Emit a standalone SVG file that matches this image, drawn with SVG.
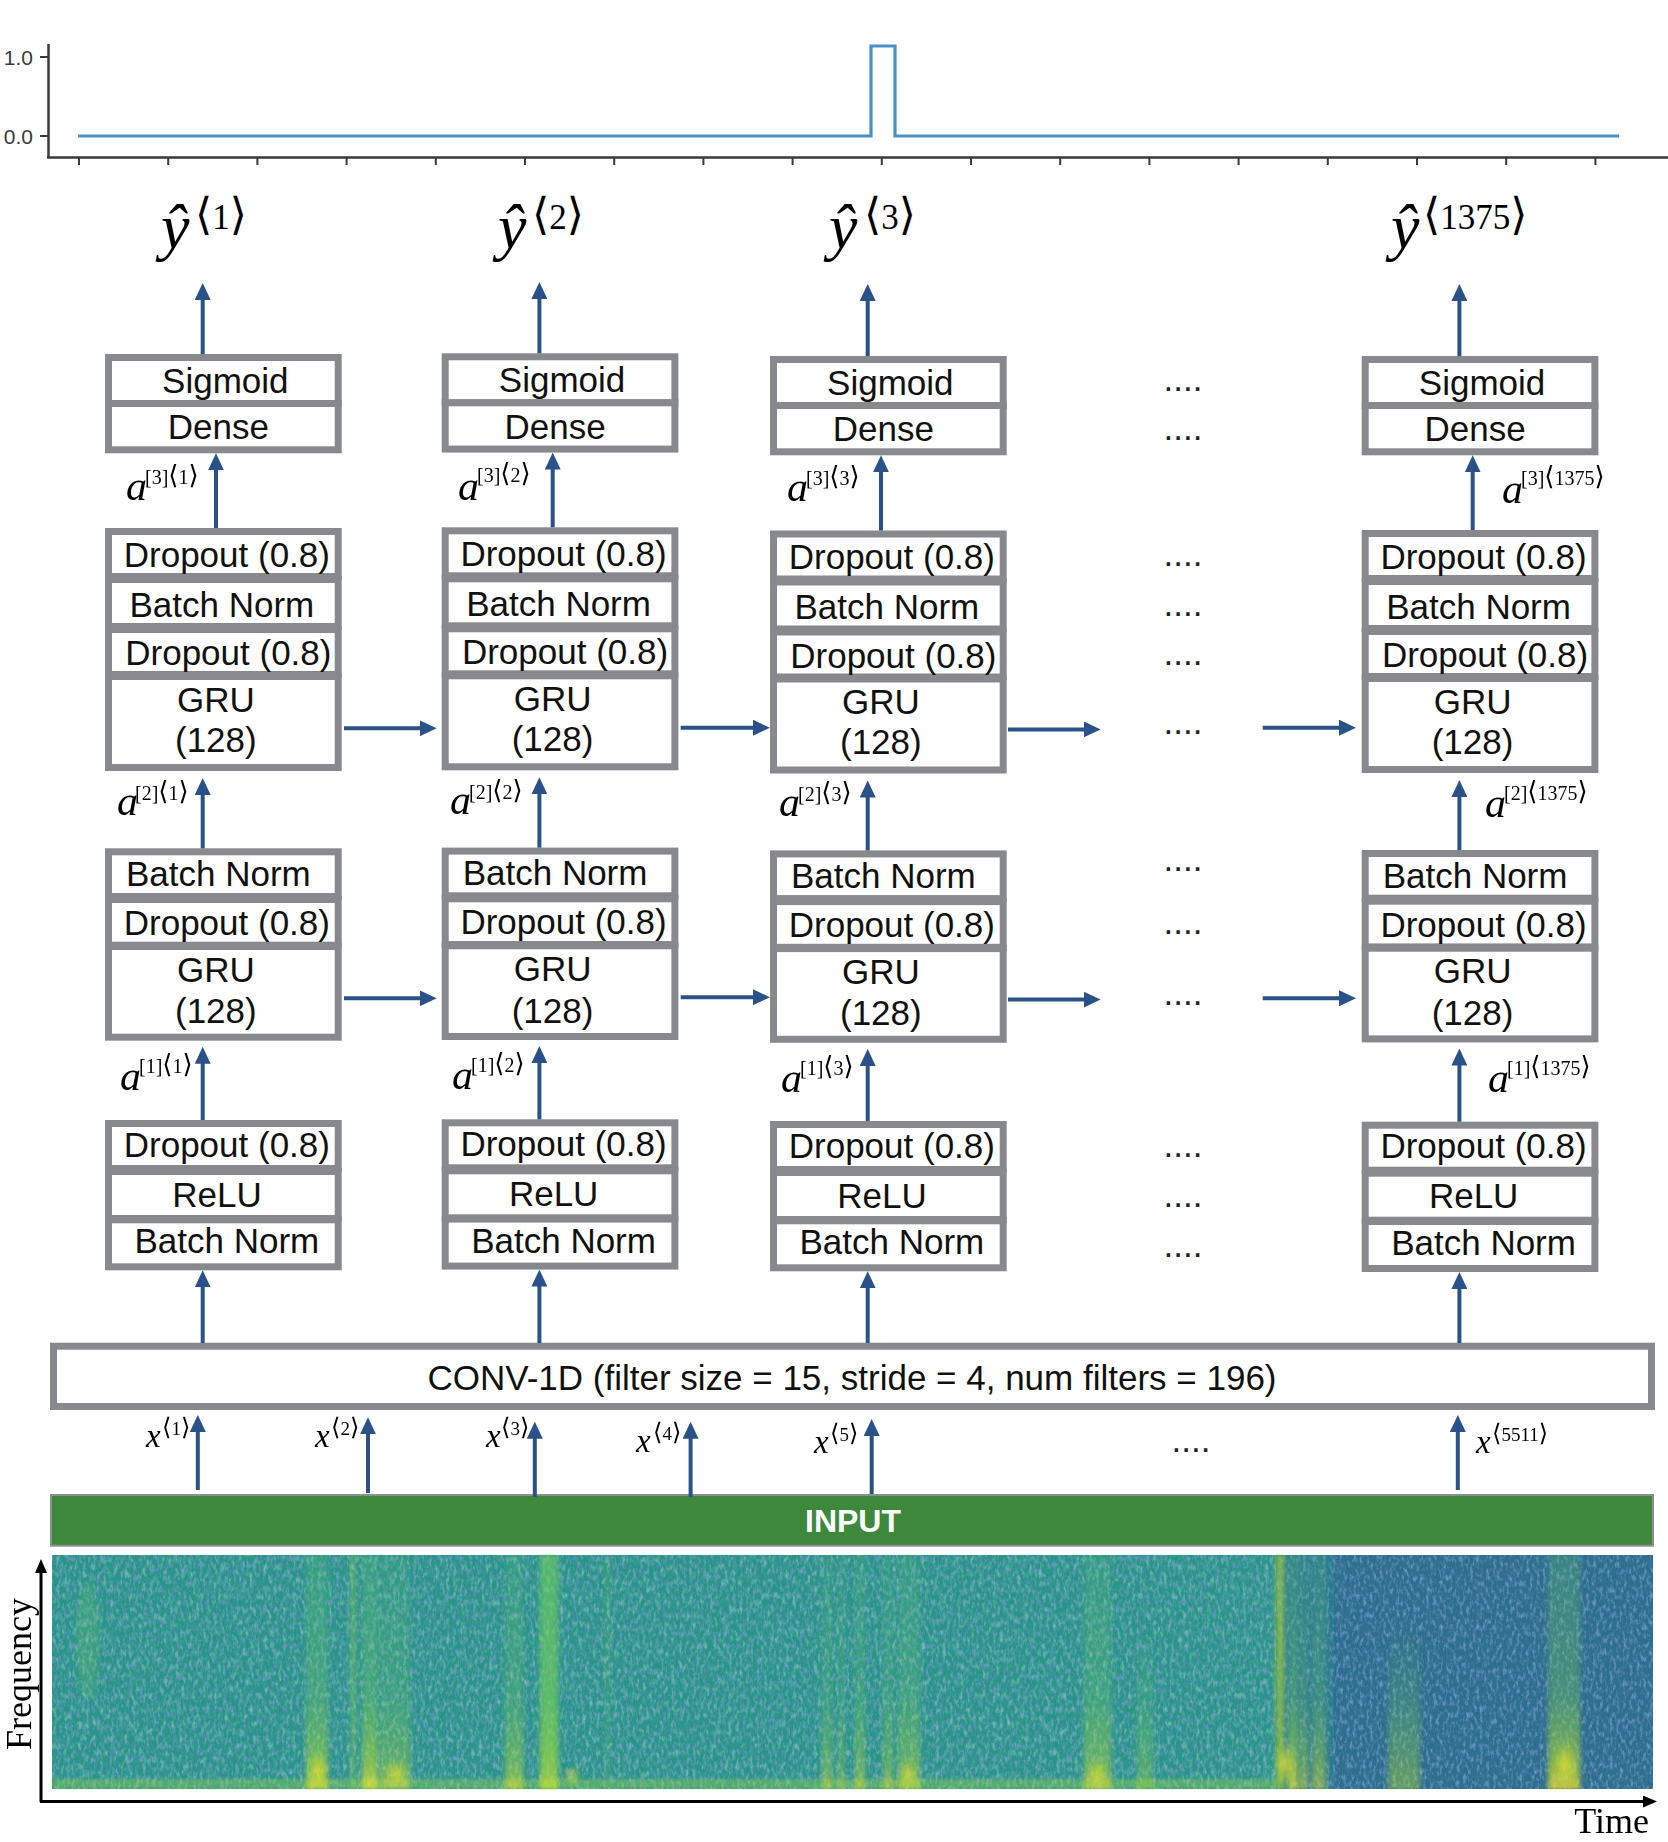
<svg xmlns="http://www.w3.org/2000/svg" width="1668" height="1842" viewBox="0 0 1668 1842">
<style>
.bx{fill:#fff;stroke:#88898d;stroke-width:7}
.t{font-family:"Liberation Sans",Arial,sans-serif;font-size:35px;fill:#111;text-anchor:middle}
.dots{font-family:"Liberation Sans",Arial,sans-serif;font-size:35px;fill:#222;text-anchor:middle}
.ar{stroke:#2a5288;stroke-width:4;fill:none;marker-end:url(#ah)}
.ax{stroke:#3a3a3a;stroke-width:2.5;fill:none}
.tk{stroke:#3a3a3a;stroke-width:2;fill:none}
.yl{font-family:"Liberation Sans",Arial,sans-serif;font-size:21px;fill:#3a3a3a;text-anchor:end}
.yh{font-family:"Liberation Serif","DejaVu Serif",serif;font-style:italic;font-size:64px;fill:#000}
.ys{font-family:"Liberation Serif","DejaVu Serif",serif;font-size:35px;fill:#000}
.av{font-family:"Liberation Serif","DejaVu Serif",serif;font-style:italic;font-size:42px;fill:#000}
.as{font-family:"Liberation Serif","DejaVu Serif",serif;font-size:20px;fill:#000}
.xv{font-family:"Liberation Serif","DejaVu Serif",serif;font-style:italic;font-size:33px;fill:#000}
.xs{font-family:"Liberation Serif","DejaVu Serif",serif;font-size:19px;fill:#000}
.axl{font-family:"Liberation Serif","DejaVu Serif",serif;font-size:36px;fill:#000}
.bk{stroke:#000;stroke-width:3;fill:none}
.b1{font-size:44px}
.b2{font-size:26px}
.b3{font-size:24px}
</style>
<defs>
<marker id="ah" viewBox="0 0 17 16" refX="5" refY="8" markerWidth="17" markerHeight="16" markerUnits="userSpaceOnUse" orient="auto"><path d="M0,0 L17,8 L0,16 z" fill="#2a5288"/></marker>
<marker id="bh" viewBox="0 0 14 12" refX="4" refY="6" markerWidth="14" markerHeight="12" markerUnits="userSpaceOnUse" orient="auto"><path d="M0,0 L14,6 L0,12 z" fill="#000"/></marker>
<linearGradient id="stk" x1="0" y1="0" x2="0" y2="1">
<stop offset="0" stop-color="#5ec962" stop-opacity="0.3"/>
<stop offset="0.6" stop-color="#7ad151" stop-opacity="0.42"/>
<stop offset="0.88" stop-color="#b5de2b" stop-opacity="0.75"/>
<stop offset="1" stop-color="#fde725" stop-opacity="0.9"/>
</linearGradient>
<linearGradient id="stk2" x1="0" y1="0" x2="0" y2="1">
<stop offset="0" stop-color="#5ec962" stop-opacity="0"/>
<stop offset="0.5" stop-color="#6ccd5a" stop-opacity="0.4"/>
<stop offset="1" stop-color="#b5de2b" stop-opacity="0.7"/>
</linearGradient>
<radialGradient id="blob"><stop offset="0" stop-color="#fde725" stop-opacity="0.85"/><stop offset="1" stop-color="#d2e21b" stop-opacity="0"/></radialGradient>
<filter id="bl" x="-60%" y="-5%" width="220%" height="110%"><feGaussianBlur stdDeviation="2.5 1.5"/></filter>
<filter id="noise" x="0" y="0" width="100%" height="100%">
<feTurbulence type="fractalNoise" baseFrequency="0.3 0.16" numOctaves="3" seed="3"/>
<feColorMatrix type="matrix" values="0 0 0 0 0.15  0 0 0 0 0.32  0 0 0 0 0.55  2.4 0 0 0 -1.08"/>
</filter>
<filter id="noise2" x="0" y="0" width="100%" height="100%">
<feTurbulence type="fractalNoise" baseFrequency="0.28 0.14" numOctaves="2" seed="11"/>
<feColorMatrix type="matrix" values="0 0 0 0 0.28  0 0 0 0 0.64  0 0 0 0 0.5  0 1.6 0 0 -0.8"/>
</filter>
</defs>

<g id="chart">
<path class="ax" d="M48.5,44 V157.5 M47,157.5 H1668"/>
<path class="tk" d="M40,57 H48.5 M40,136 H48.5"/>
<path class="tk" d="M79,157.5V165 M168.2,157.5V165 M257.4,157.5V165 M346.6,157.5V165 M435.8,157.5V165 M525,157.5V165 M614.2,157.5V165 M703.4,157.5V165 M792.6,157.5V165 M881.8,157.5V165 M971,157.5V165 M1060.2,157.5V165 M1149.4,157.5V165 M1238.6,157.5V165 M1327.8,157.5V165 M1417,157.5V165 M1506.2,157.5V165 M1595.4,157.5V165"/>
<text class="yl" x="33" y="64.5">1.0</text>
<text class="yl" x="33" y="143.5">0.0</text>
<path d="M78,136 H871 V46 H895 V136 H1619" fill="none" stroke="#4a91c9" stroke-width="3.2"/>
</g>

<g id="outputs">
<text class="yh" x="161" y="248">ŷ</text><text class="ys" x="195" y="229"><tspan class="b1">⟨</tspan>1<tspan class="b1">⟩</tspan></text>
<text class="yh" x="498" y="248">ŷ</text><text class="ys" x="532" y="229"><tspan class="b1">⟨</tspan>2<tspan class="b1">⟩</tspan></text>
<text class="yh" x="829" y="248">ŷ</text><text class="ys" x="864" y="229"><tspan class="b1">⟨</tspan>3<tspan class="b1">⟩</tspan></text>
<text class="yh" x="1391" y="248">ŷ</text><text class="ys" x="1423" y="229"><tspan class="b1">⟨</tspan>1375<tspan class="b1">⟩</tspan></text>
</g>

<g id="col1-dense">
<rect class="bx" x="108.5" y="357.5" width="229.7" height="46"/>
<rect class="bx" x="108.5" y="403.5" width="229.7" height="46.3"/>
<text class="t" x="225.35" y="392.7">Sigmoid</text>
<text class="t" x="218.35" y="439.3">Dense</text>
</g>
<g id="col1-gru2">
<rect class="bx" x="108.5" y="531.5" width="229.7" height="45"/>
<rect class="bx" x="108.5" y="579.5" width="229.7" height="47"/>
<rect class="bx" x="108.5" y="629.5" width="229.7" height="45"/>
<rect class="bx" x="108.5" y="676.5" width="229.7" height="91"/>
<text class="t" x="226.85" y="566.7">Dropout (0.8)</text>
<text class="t" x="221.85" y="616.7">Batch Norm</text>
<text class="t" x="228.35" y="665">Dropout (0.8)</text>
<text class="t" x="215.85" y="711.7">GRU</text>
<text class="t" x="215.85" y="751.7">(128)</text>
</g>
<g id="col1-gru1">
<rect class="bx" x="108.5" y="851.8" width="229.7" height="44.7"/>
<rect class="bx" x="108.5" y="899.5" width="229.7" height="45.7"/>
<rect class="bx" x="108.5" y="946.5" width="229.7" height="90.7"/>
<text class="t" x="218.35" y="886">Batch Norm</text>
<text class="t" x="226.85" y="935">Dropout (0.8)</text>
<text class="t" x="215.85" y="981.7">GRU</text>
<text class="t" x="215.85" y="1023.3">(128)</text>
</g>
<g id="col1-conv-out">
<rect class="bx" x="108.5" y="1123.5" width="229.7" height="45"/>
<rect class="bx" x="108.5" y="1171.5" width="229.7" height="47"/>
<rect class="bx" x="108.5" y="1219.8" width="229.7" height="47"/>
<text class="t" x="226.85" y="1156.7">Dropout (0.8)</text>
<text class="t" x="216.95" y="1206.7">ReLU</text>
<text class="t" x="226.85" y="1253.3">Batch Norm</text>
</g>

<g id="col2-dense">
<rect class="bx" x="445.2" y="356.8" width="229.7" height="46"/>
<rect class="bx" x="445.2" y="402.8" width="229.7" height="46.3"/>
<text class="t" x="562.05" y="392">Sigmoid</text>
<text class="t" x="555.05" y="438.6">Dense</text>
</g>
<g id="col2-gru2">
<rect class="bx" x="445.2" y="530.8" width="229.7" height="45"/>
<rect class="bx" x="445.2" y="578.8" width="229.7" height="47"/>
<rect class="bx" x="445.2" y="628.8" width="229.7" height="45"/>
<rect class="bx" x="445.2" y="675.8" width="229.7" height="91"/>
<text class="t" x="563.55" y="566">Dropout (0.8)</text>
<text class="t" x="558.55" y="616">Batch Norm</text>
<text class="t" x="565.05" y="664.3">Dropout (0.8)</text>
<text class="t" x="552.55" y="711">GRU</text>
<text class="t" x="552.55" y="751">(128)</text>
</g>
<g id="col2-gru1">
<rect class="bx" x="445.2" y="851.1" width="229.7" height="44.7"/>
<rect class="bx" x="445.2" y="898.8" width="229.7" height="45.7"/>
<rect class="bx" x="445.2" y="945.8" width="229.7" height="90.7"/>
<text class="t" x="555.05" y="885.3">Batch Norm</text>
<text class="t" x="563.55" y="934.3">Dropout (0.8)</text>
<text class="t" x="552.55" y="981">GRU</text>
<text class="t" x="552.55" y="1022.6">(128)</text>
</g>
<g id="col2-conv-out">
<rect class="bx" x="445.2" y="1122.8" width="229.7" height="45"/>
<rect class="bx" x="445.2" y="1170.8" width="229.7" height="47"/>
<rect class="bx" x="445.2" y="1219.1" width="229.7" height="47"/>
<text class="t" x="563.55" y="1156">Dropout (0.8)</text>
<text class="t" x="553.65" y="1206">ReLU</text>
<text class="t" x="563.55" y="1252.6">Batch Norm</text>
</g>

<g id="col3-dense">
<rect class="bx" x="773.5" y="359.5" width="229.7" height="46"/>
<rect class="bx" x="773.5" y="405.5" width="229.7" height="46.3"/>
<text class="t" x="890.35" y="394.7">Sigmoid</text>
<text class="t" x="883.35" y="441.3">Dense</text>
</g>
<g id="col3-gru2">
<rect class="bx" x="773.5" y="534" width="229.7" height="45"/>
<rect class="bx" x="773.5" y="582" width="229.7" height="47"/>
<rect class="bx" x="773.5" y="632" width="229.7" height="45"/>
<rect class="bx" x="773.5" y="679" width="229.7" height="91"/>
<text class="t" x="891.85" y="569.2">Dropout (0.8)</text>
<text class="t" x="886.85" y="619.2">Batch Norm</text>
<text class="t" x="893.35" y="667.5">Dropout (0.8)</text>
<text class="t" x="880.85" y="714.2">GRU</text>
<text class="t" x="880.85" y="754.2">(128)</text>
</g>
<g id="col3-gru1">
<rect class="bx" x="773.5" y="853.9" width="229.7" height="44.7"/>
<rect class="bx" x="773.5" y="901.6" width="229.7" height="45.7"/>
<rect class="bx" x="773.5" y="948.6" width="229.7" height="90.7"/>
<text class="t" x="883.35" y="888.1">Batch Norm</text>
<text class="t" x="891.85" y="937.1">Dropout (0.8)</text>
<text class="t" x="880.85" y="983.8">GRU</text>
<text class="t" x="880.85" y="1025.4">(128)</text>
</g>
<g id="col3-conv-out">
<rect class="bx" x="773.5" y="1124.5" width="229.7" height="45"/>
<rect class="bx" x="773.5" y="1172.5" width="229.7" height="47"/>
<rect class="bx" x="773.5" y="1220.8" width="229.7" height="47"/>
<text class="t" x="891.85" y="1157.7">Dropout (0.8)</text>
<text class="t" x="881.95" y="1207.7">ReLU</text>
<text class="t" x="891.85" y="1254.3">Batch Norm</text>
</g>

<g id="col4-dense">
<rect class="bx" x="1365.2" y="359.5" width="229.7" height="46"/>
<rect class="bx" x="1365.2" y="405.5" width="229.7" height="46.3"/>
<text class="t" x="1482.05" y="394.7">Sigmoid</text>
<text class="t" x="1475.05" y="441.3">Dense</text>
</g>
<g id="col4-gru2">
<rect class="bx" x="1365.2" y="533.5" width="229.7" height="45"/>
<rect class="bx" x="1365.2" y="581.5" width="229.7" height="47"/>
<rect class="bx" x="1365.2" y="631.5" width="229.7" height="45"/>
<rect class="bx" x="1365.2" y="678.5" width="229.7" height="91"/>
<text class="t" x="1483.55" y="568.7">Dropout (0.8)</text>
<text class="t" x="1478.55" y="618.7">Batch Norm</text>
<text class="t" x="1485.05" y="667">Dropout (0.8)</text>
<text class="t" x="1472.55" y="713.7">GRU</text>
<text class="t" x="1472.55" y="753.7">(128)</text>
</g>
<g id="col4-gru1">
<rect class="bx" x="1365.2" y="853.5" width="229.7" height="44.7"/>
<rect class="bx" x="1365.2" y="901.2" width="229.7" height="45.7"/>
<rect class="bx" x="1365.2" y="948.2" width="229.7" height="90.7"/>
<text class="t" x="1475.05" y="887.7">Batch Norm</text>
<text class="t" x="1483.55" y="936.7">Dropout (0.8)</text>
<text class="t" x="1472.55" y="983.4">GRU</text>
<text class="t" x="1472.55" y="1025">(128)</text>
</g>
<g id="col4-conv-out">
<rect class="bx" x="1365.2" y="1125.2" width="229.7" height="45"/>
<rect class="bx" x="1365.2" y="1173.2" width="229.7" height="47"/>
<rect class="bx" x="1365.2" y="1221.5" width="229.7" height="47"/>
<text class="t" x="1483.55" y="1158.4">Dropout (0.8)</text>
<text class="t" x="1473.65" y="1208.4">ReLU</text>
<text class="t" x="1483.55" y="1255">Batch Norm</text>
</g>

<g id="ellipsis">
<text class="dots" x="1183" y="391">....</text>
<text class="dots" x="1183" y="439.5">....</text>
<text class="dots" x="1183" y="566">....</text>
<text class="dots" x="1183" y="615.5">....</text>
<text class="dots" x="1183" y="665">....</text>
<text class="dots" x="1183" y="734">....</text>
<text class="dots" x="1183" y="870.5">....</text>
<text class="dots" x="1183" y="934">....</text>
<text class="dots" x="1183" y="1004.5">....</text>
<text class="dots" x="1183" y="1157">....</text>
<text class="dots" x="1183" y="1206.5">....</text>
<text class="dots" x="1183" y="1257">....</text>
<text class="dots" x="1191" y="1452">....</text>
</g>

<g id="conv1d">
<rect class="bx" x="53.5" y="1346.2" width="1598" height="60.3"/>
<text class="t" x="852" y="1390">CONV-1D (filter size = 15, stride = 4, num filters = 196)</text>
</g>

<g id="input">
<rect x="51" y="1495" width="1602" height="50.7" fill="#3d883a" stroke="#8e8e8e" stroke-width="2"/>
<text x="853" y="1532" font-family="Liberation Sans,Arial,sans-serif" font-size="32" font-weight="bold" fill="#fff" text-anchor="middle">INPUT</text>
</g>

<g id="spectrogram">
<rect x="52" y="1555" width="1224" height="234" fill="#2a948a"/>
<rect x="1276" y="1555" width="58" height="234" fill="#2a7c8d"/>
<rect x="1334" y="1555" width="319" height="234" fill="#2e6e8f"/>
<rect x="52" y="1555" width="1601" height="234" filter="url(#noise)"/>
<rect x="52" y="1555" width="1224" height="234" filter="url(#noise2)"/>
<g filter="url(#bl)">
<ellipse cx="88" cy="1640" rx="12" ry="60" fill="#6ccd5a" opacity="0.22"/>
<rect x="52" y="1779" width="1224" height="10" fill="#9ad940" opacity="0.35"/>
<rect x="306" y="1555" width="22" height="234" fill="url(#stk)" opacity="0.65"/>
<rect x="351" y="1555" width="4" height="234" fill="#8fd744" opacity="0.5"/>
<rect x="362" y="1555" width="16" height="234" fill="url(#stk)" opacity="0.75"/>
<rect x="380" y="1555" width="30" height="234" fill="url(#stk)" opacity="0.45"/>
<rect x="505" y="1555" width="18" height="234" fill="url(#stk)" opacity="0.55"/>
<rect x="540" y="1555" width="18" height="234" fill="#74cf55" opacity="0.5"/>
<rect x="540" y="1555" width="18" height="234" fill="url(#stk)" opacity="0.55"/>
<rect x="606" y="1555" width="3" height="234" fill="#7ad151" opacity="0.3"/>
<rect x="822" y="1555" width="10" height="234" fill="url(#stk)" opacity="0.45"/>
<rect x="838" y="1555" width="6" height="234" fill="url(#stk)" opacity="0.45"/>
<rect x="855" y="1555" width="10" height="234" fill="url(#stk)" opacity="0.5"/>
<rect x="883" y="1555" width="10" height="234" fill="url(#stk)" opacity="0.45"/>
<rect x="898" y="1555" width="22" height="234" fill="url(#stk)" opacity="0.5"/>
<rect x="1084" y="1555" width="27" height="234" fill="url(#stk)" opacity="0.55"/>
<rect x="1137" y="1620" width="16" height="169" fill="url(#stk2)" opacity="0.5"/>
<rect x="1276" y="1555" width="8" height="234" fill="#b8de2a" opacity="0.6"/>
<rect x="1288" y="1555" width="10" height="234" fill="url(#stk)" opacity="0.75"/>
<rect x="1300" y="1555" width="8" height="234" fill="url(#stk)" opacity="0.55"/>
<rect x="1312" y="1555" width="14" height="234" fill="url(#stk)" opacity="0.5"/>
<rect x="1388" y="1620" width="32" height="169" fill="url(#stk2)" opacity="0.6"/>
<rect x="1548" y="1555" width="32" height="234" fill="url(#stk)" opacity="0.8"/>
<ellipse cx="318" cy="1770" rx="10" ry="20" fill="url(#blob)" opacity="0.8"/>
<ellipse cx="396" cy="1774" rx="14" ry="15" fill="url(#blob)" opacity="0.75"/>
<ellipse cx="572" cy="1776" rx="9" ry="12" fill="url(#blob)" opacity="0.7"/>
<ellipse cx="908" cy="1774" rx="10" ry="15" fill="url(#blob)" opacity="0.7"/>
<ellipse cx="1097" cy="1774" rx="11" ry="15" fill="url(#blob)" opacity="0.7"/>
<ellipse cx="1285" cy="1764" rx="12" ry="24" fill="url(#blob)" opacity="0.8"/>
<ellipse cx="1565" cy="1764" rx="12" ry="24" fill="url(#blob)" opacity="0.8"/>
</g>
</g>

<g id="axes">
<path class="bk" d="M41,1802 V1569" marker-end="url(#bh)"/>
<path class="bk" d="M40,1801.5 H1647" marker-end="url(#bh)"/>
<text class="axl" transform="translate(31,1674) rotate(-90)" text-anchor="middle">Frequency</text>
<text class="axl" x="1649" y="1833" text-anchor="end">Time</text>
</g>

<g id="labels">
<text class="av" x="126" y="500">a</text><text class="as" x="145" y="484">[3]<tspan class="b2">⟨</tspan>1<tspan class="b2">⟩</tspan></text>
<text class="av" x="458" y="500">a</text><text class="as" x="477" y="482">[3]<tspan class="b2">⟨</tspan>2<tspan class="b2">⟩</tspan></text>
<text class="av" x="787" y="501">a</text><text class="as" x="806" y="485">[3]<tspan class="b2">⟨</tspan>3<tspan class="b2">⟩</tspan></text>
<text class="av" x="1502" y="503">a</text><text class="as" x="1521" y="485">[3]<tspan class="b2">⟨</tspan>1375<tspan class="b2">⟩</tspan></text>
<text class="av" x="117" y="815">a</text><text class="as" x="135" y="800">[2]<tspan class="b2">⟨</tspan>1<tspan class="b2">⟩</tspan></text>
<text class="av" x="450" y="814">a</text><text class="as" x="469" y="799">[2]<tspan class="b2">⟨</tspan>2<tspan class="b2">⟩</tspan></text>
<text class="av" x="779" y="816">a</text><text class="as" x="798" y="801">[2]<tspan class="b2">⟨</tspan>3<tspan class="b2">⟩</tspan></text>
<text class="av" x="1485" y="817">a</text><text class="as" x="1504" y="800">[2]<tspan class="b2">⟨</tspan>1375<tspan class="b2">⟩</tspan></text>
<text class="av" x="120" y="1090">a</text><text class="as" x="139" y="1073">[1]<tspan class="b2">⟨</tspan>1<tspan class="b2">⟩</tspan></text>
<text class="av" x="452" y="1089">a</text><text class="as" x="471" y="1072">[1]<tspan class="b2">⟨</tspan>2<tspan class="b2">⟩</tspan></text>
<text class="av" x="781" y="1092">a</text><text class="as" x="800" y="1075">[1]<tspan class="b2">⟨</tspan>3<tspan class="b2">⟩</tspan></text>
<text class="av" x="1488" y="1092">a</text><text class="as" x="1507" y="1075">[1]<tspan class="b2">⟨</tspan>1375<tspan class="b2">⟩</tspan></text>
<text class="xv" x="146" y="1447">x</text><text class="xs" x="162" y="1435"><tspan class="b3">⟨</tspan>1<tspan class="b3">⟩</tspan></text>
<text class="xv" x="315" y="1447">x</text><text class="xs" x="331" y="1435"><tspan class="b3">⟨</tspan>2<tspan class="b3">⟩</tspan></text>
<text class="xv" x="486" y="1447">x</text><text class="xs" x="501" y="1435"><tspan class="b3">⟨</tspan>3<tspan class="b3">⟩</tspan></text>
<text class="xv" x="636" y="1452">x</text><text class="xs" x="653" y="1440"><tspan class="b3">⟨</tspan>4<tspan class="b3">⟩</tspan></text>
<text class="xv" x="814" y="1453">x</text><text class="xs" x="830" y="1441"><tspan class="b3">⟨</tspan>5<tspan class="b3">⟩</tspan></text>
<text class="xv" x="1476" y="1453">x</text><text class="xs" x="1492" y="1441"><tspan class="b3">⟨</tspan>5511<tspan class="b3">⟩</tspan></text>
</g>

<g id="connectors">
<path class="ar" d="M202.7,354 V295"/>
<path class="ar" d="M539.4,353.3 V294"/>
<path class="ar" d="M867.7,356 V296"/>
<path class="ar" d="M1459.4,356 V296"/>
<path class="ar" d="M216,528 V465.3"/>
<path class="ar" d="M552.7,527.3 V464.6"/>
<path class="ar" d="M881,530.5 V467.3"/>
<path class="ar" d="M1472.7,530 V467.3"/>
<path class="ar" d="M202.7,848.3 V790"/>
<path class="ar" d="M539.4,847.6 V789.3"/>
<path class="ar" d="M867.7,850.4 V792.5"/>
<path class="ar" d="M1459.4,850 V792"/>
<path class="ar" d="M202.7,1120 V1058.8"/>
<path class="ar" d="M539.4,1119.3 V1058.1"/>
<path class="ar" d="M867.7,1121 V1060.9"/>
<path class="ar" d="M1459.4,1121.7 V1060.5"/>
<path class="ar" d="M202.7,1343 V1282.3"/>
<path class="ar" d="M539.4,1343 V1281.6"/>
<path class="ar" d="M867.7,1343 V1283.3"/>
<path class="ar" d="M1459.4,1343 V1284"/>
<path class="ar" d="M344,728.3 H424.7"/>
<path class="ar" d="M680.7,727.7 H758"/>
<path class="ar" d="M1008,729.4 H1088.6"/>
<path class="ar" d="M1262.7,727.7 H1344"/>
<path class="ar" d="M344,998.3 H424.7"/>
<path class="ar" d="M680.7,997.3 H758"/>
<path class="ar" d="M1008,999.6 H1088.6"/>
<path class="ar" d="M1262.7,998.3 H1344"/>
<path class="ar" d="M197.8,1490 V1427"/>
<path class="ar" d="M368,1493 V1429.3"/>
<path class="ar" d="M534.8,1497 V1433.7"/>
<path class="ar" d="M690.6,1497 V1433.7"/>
<path class="ar" d="M871.7,1494 V1431"/>
<path class="ar" d="M1457.8,1490 V1427"/>
</g>
</svg>
